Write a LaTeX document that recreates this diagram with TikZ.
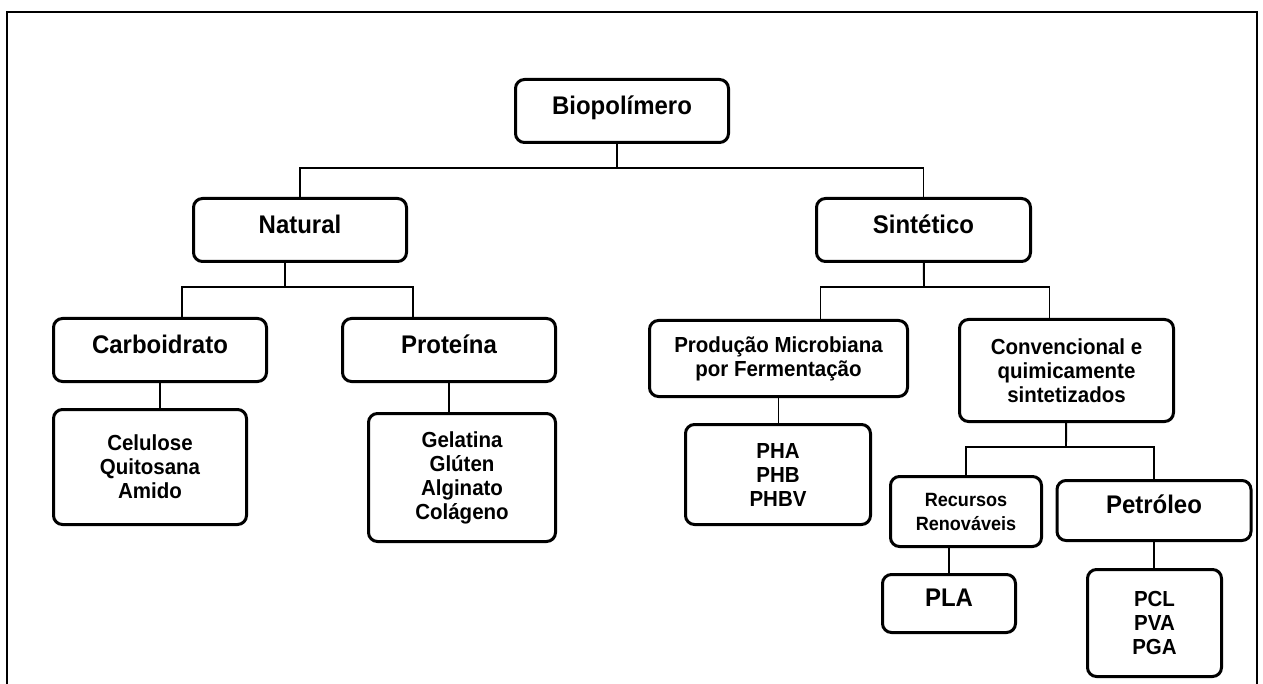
\documentclass[tikz,border=0pt]{standalone}
\usepackage{fontspec}
\setmainfont{Liberation Sans}[FakeStretch=0.94]

\begin{document}
\begin{tikzpicture}[x=1pt, y=-1pt,
  box/.style={draw, line width=3pt, rounded corners=9pt, align=center, inner sep=0pt,
    font={\bfseries\fontsize{21.8}{24}\selectfont}},
  big/.style={box, font={\bfseries\fontsize{25.5}{28}\selectfont}, text height=18.5pt, text depth=12.3pt},
  small/.style={box, font={\bfseries\fontsize{19.2}{24}\selectfont}},
  link/.style={line width=1.9pt}]
\useasboundingbox (0,0) rectangle (1263,684);
\draw[line width=1.4pt] (7,684) -- (7,12) -- (1257,12) -- (1257,684);

\node[big, minimum width=213pt, minimum height=63pt] (bio) at (622,111) {Biopolímero};
\node[big, minimum width=213pt, minimum height=63pt] (nat) at (300,230) {Natural};
\node[big, minimum width=214pt, minimum height=63pt] (sin) at (923.5,230) {Sintético};
\node[big, minimum width=213pt, minimum height=63pt] (carb) at (160,350) {Carboidrato};
\node[big, minimum width=213pt, minimum height=63pt] (prot) at (449,350) {Proteína};
\node[box, minimum width=193pt, minimum height=115pt] (cel) at (150,467) {Celulose\\Quitosana\\Amido};
\node[box, minimum width=187pt, minimum height=128pt] (gel) at (462,477.5) {Gelatina\\Glúten\\Alginato\\Colágeno};
\node[box, minimum width=258pt, minimum height=76pt] (prod) at (778.5,358.5) {Produção Microbiana\\por Fermentação};
\node[box, minimum width=214pt, minimum height=102pt] (conv) at (1066.5,370.5) {Convencional e\\quimicamente\\sintetizados};
\node[box, minimum width=185pt, minimum height=100pt] (pha) at (778,474.5) {PHA\\PHB\\PHBV};
\node[small, minimum width=151pt, minimum height=70pt] (rec) at (966,511.5) {Recursos\\Renováveis};
\node[big, minimum width=194pt, minimum height=60pt] (pet) at (1154,510.5) {Petróleo};
\node[big, minimum width=133pt, minimum height=58pt] (pla) at (949,603.5) {PLA};
\node[box, minimum width=134pt, minimum height=107pt] (pcl) at (1154.5,623) {PCL\\PVA\\PGA};

\coordinate (J0) at (617,168);
\coordinate (J1) at (285,287);
\coordinate (J2) at (924,287);
\coordinate (J3) at (1066,447);

\draw[link] (bio.south -| J0) -- (J0);
\draw[link] (J0) -| (nat);
\draw[link] (J0) -| (sin);
\draw[link] (nat.south -| J1) -- (J1);
\draw[link] (J1) -| ([xshift=22pt]carb.north);
\draw[link] (J1) -| ([xshift=-36pt]prot.north);
\draw[link] (carb) -- (carb |- cel.north);
\draw[link] (prot) -- (prot |- gel.north);
\draw[link] (sin) -- (J2);
\draw[link] (J2) -| ([xshift=42pt]prod.north);
\draw[link] (J2) -| ([xshift=-17pt]conv.north);
\draw[link] (prod) -- (prod |- pha.north);
\draw[link] (conv) -- (J3);
\draw[link] (J3) -| (rec);
\draw[link] (J3) -| (pet);
\draw[link] (pla) -- (pla |- rec.south);
\draw[link] (pet) -- (pet |- pcl.north);
\end{tikzpicture}
\end{document}
